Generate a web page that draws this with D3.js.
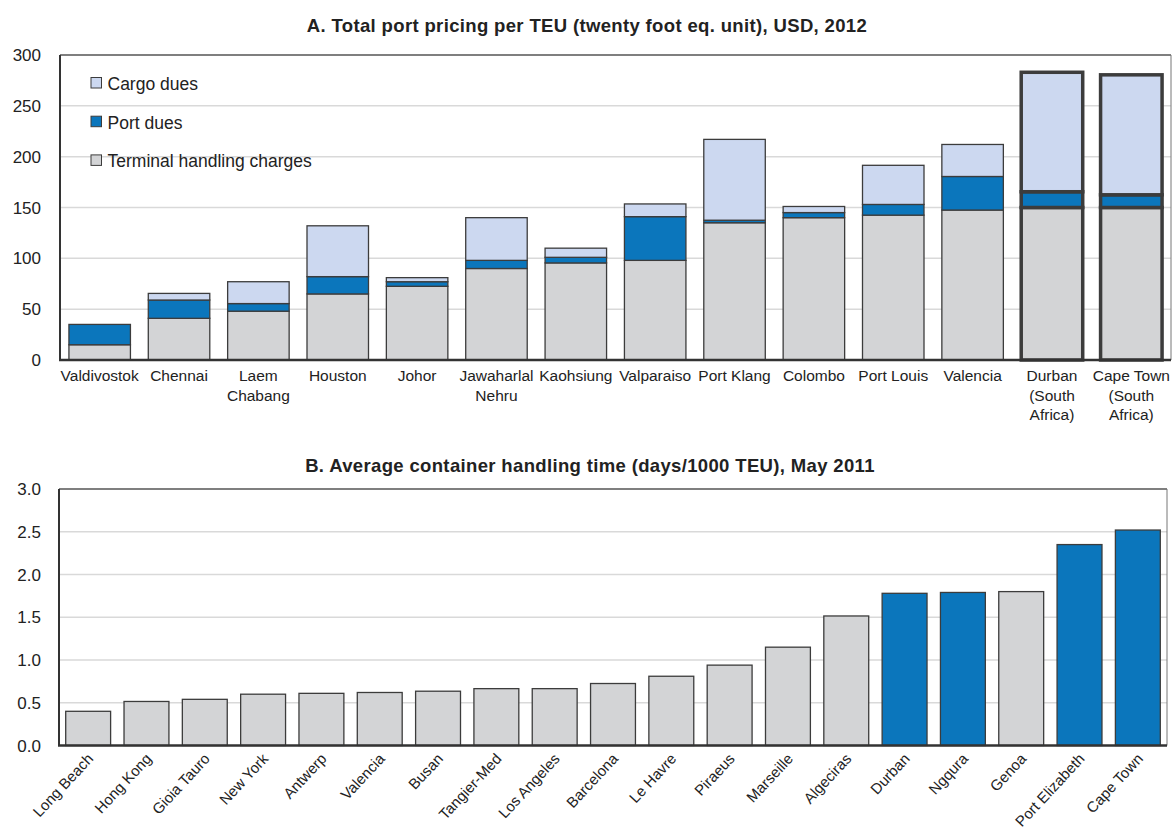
<!DOCTYPE html>
<html>
<head>
<meta charset="utf-8">
<script src="https://cdn.jsdelivr.net/npm/d3@7"></script>
<style>
    body { margin: 0; background: #fff; }
    svg { display: block; font-family: "Liberation Sans", Arial, sans-serif; }
</style>
</head>
<body>
<div id="chart"></div>
<script>
// Panel A data
const portsA = ['Valdivostok', 'Chennai', 'Laem\nChabang', 'Houston', 'Johor', 'Jawaharlal\nNehru', 'Kaohsiung',
    'Valparaiso', 'Port Klang', 'Colombo', 'Port Louis', 'Valencia', 'Durban\n(South\nAfrica)', 'Cape Town\n(South\nAfrica)'];
const terminalCharges = [15, 41, 48, 65, 72.5, 90, 95.5, 98, 135, 140, 142.5, 147.5, 150, 150];
const portDues = [20, 18, 7.5, 17, 4.5, 8, 5.5, 43, 2.5, 5, 10.5, 33, 15.5, 12.5];
const cargoDues = [0, 6.5, 21.5, 50, 4, 42, 9, 12.5, 79.5, 6, 38.5, 31.5, 117.5, 118];
const highlightA = ['Durban\n(South\nAfrica)', 'Cape Town\n(South\nAfrica)'];
const ticksA = [0, 50, 100, 150, 200, 250, 300];

// Panel B data
const portsB = ['Long Beach', 'Hong Kong', 'Gioia Tauro', 'New York', 'Antwerp', 'Valencia', 'Busan', 'Tangier-Med',
    'Los Angeles', 'Barcelona', 'Le Havre', 'Piraeus', 'Marseille', 'Algeciras', 'Durban', 'Ngqura', 'Genoa',
    'Port Elizabeth', 'Cape Town'];
const handlingTime = [0.40, 0.515, 0.54, 0.60, 0.61, 0.62, 0.635, 0.665, 0.665, 0.725, 0.81, 0.94, 1.15, 1.515,
    1.78, 1.79, 1.80, 2.35, 2.52];
const southAfricaB = ['Durban', 'Ngqura', 'Port Elizabeth', 'Cape Town'];
const ticksB = [0, 0.5, 1, 1.5, 2, 2.5, 3];

const colors = { thc: '#d3d4d6', port: '#0b76bc', cargo: '#ccd8f0', stroke: '#3c3c3c', grid: '#d9d9d9', text: '#222' };

const svg = d3.select('#chart').append('svg').attr('width', 1172).attr('height', 831);

// 画框和网格
const drawFrame = (g, x0, x1, y, ticks, fmt) => {
    g.append('g').selectAll('line').data(ticks.slice(1, -1)).enter().append('line')
        .attr('x1', x0).attr('x2', x1).attr('y1', d => y(d)).attr('y2', d => y(d))
        .attr('stroke', colors.grid).attr('stroke-width', 1.5);
    g.append('line').attr('x1', x0).attr('x2', x1).attr('y1', y(ticks[ticks.length - 1])).attr('y2', y(ticks[ticks.length - 1]))
        .attr('stroke', '#555').attr('stroke-width', 1.5);
    g.append('line').attr('x1', x1).attr('x2', x1).attr('y1', y(ticks[ticks.length - 1])).attr('y2', y(0))
        .attr('stroke', '#777').attr('stroke-width', 1);
    g.append('g').selectAll('text').data(ticks).enter().append('text')
        .attr('x', 41).attr('y', d => y(d)).attr('dy', '0.36em')
        .attr('text-anchor', 'end').attr('font-size', 17).attr('fill', colors.text)
        .text(fmt);
};

const drawAxisLines = (g, x0, x1, y, top) => {
    g.append('line').attr('x1', x0).attr('x2', x0).attr('y1', y(top)).attr('y2', y(0))
        .attr('stroke', '#333').attr('stroke-width', 2);
    g.append('line').attr('x1', x0 - 1).attr('x2', x1).attr('y1', y(0)).attr('y2', y(0))
        .attr('stroke', '#333').attr('stroke-width', 2.5);
};

const drawTitle = (g, x, y, text) => {
    g.append('text').attr('x', x).attr('y', y).attr('text-anchor', 'middle')
        .attr('font-size', 18.5).attr('font-weight', 'bold').attr('letter-spacing', 0.35).attr('fill', colors.text)
        .text(text);
};

// A. 港口费用
const drawPanelA = () => {
    const left = 60, right = 1171;
    const x = d3.scaleBand().domain(portsA).range([left, right]).paddingInner(0.225).paddingOuter(0.1125);
    const y = d3.scaleLinear().domain([0, 300]).range([360, 55]);
    const g = svg.append('g');

    drawTitle(g, 587, 32, 'A. Total port pricing per TEU (twenty foot eq. unit), USD, 2012');

    drawFrame(g, left, right, y, ticksA, d => d);

    // legend
    const legend = [['Cargo dues', colors.cargo], ['Port dues', colors.port], ['Terminal handling charges', colors.thc]];
    const lg = g.append('g').selectAll('g').data(legend).enter().append('g')
        .attr('transform', (d, i) => `translate(91,${77.5 + i * 38.7})`);
    lg.append('rect').attr('width', 10.5).attr('height', 10.5).attr('fill', d => d[1])
        .attr('stroke', colors.stroke).attr('stroke-width', 1);
    lg.append('text').attr('x', 16.5).attr('y', 12.5).attr('font-size', 17.5).attr('fill', colors.text).text(d => d[0]);

    const rows = portsA.map((p, i) => ({ port: p, thc: terminalCharges[i], port_dues: portDues[i], cargo: cargoDues[i] }));
    const keys = ['thc', 'port_dues', 'cargo'];
    const fills = [colors.thc, colors.port, colors.cargo];
    const series = d3.stack().keys(keys)(rows);

    g.append('g').selectAll('g').data(series).enter().append('g')
        .attr('fill', (d, i) => fills[i])
        .selectAll('rect').data(d => d.filter(s => s[1] > s[0])).enter().append('rect')
        .attr('x', d => x(d.data.port)).attr('width', x.bandwidth())
        .attr('y', d => y(d[1])).attr('height', d => y(d[0]) - y(d[1]))
        .attr('stroke', colors.stroke)
        .attr('stroke-width', d => highlightA.includes(d.data.port) ? 3.5 : 1.3);

    const labels = g.append('g').selectAll('text').data(portsA).enter().append('text')
        .attr('text-anchor', 'middle').attr('font-size', 15.5).attr('fill', colors.text)
        .attr('transform', d => `translate(${x(d) + x.bandwidth() / 2},381)`);
    labels.selectAll('tspan').data(d => d.split('\n')).enter().append('tspan')
        .attr('x', 0).attr('y', (d, i) => i * 19.5).text(d => d);

    drawAxisLines(g, left, right, y, 300);
};

// B. 集装箱处理时间
const drawPanelB = () => {
    const left = 59, right = 1167;
    const x = d3.scaleBand().domain(portsB).range([left, right]).paddingInner(0.23).paddingOuter(0.115);
    const y = d3.scaleLinear().domain([0, 3]).range([745.5, 489]);
    const g = svg.append('g');

    drawTitle(g, 590, 472, 'B. Average container handling time (days/1000 TEU), May 2011');

    drawFrame(g, left, right, y, ticksB, d3.format('.1f'));

    g.append('g').selectAll('rect').data(portsB).enter().append('rect')
        .attr('x', d => x(d)).attr('width', x.bandwidth())
        .attr('y', (d, i) => y(handlingTime[i])).attr('height', (d, i) => y(0) - y(handlingTime[i]))
        .attr('fill', d => southAfricaB.includes(d) ? colors.port : colors.thc)
        .attr('stroke', colors.stroke).attr('stroke-width', 1.3);

    g.append('g').selectAll('text').data(portsB).enter().append('text')
        .attr('text-anchor', 'end').attr('font-size', 15).attr('fill', colors.text)
        .attr('transform', d => `translate(${x(d) + x.bandwidth() / 2 + 6},${y(0) + 14}) rotate(-47)`)
        .text(d => d);

    drawAxisLines(g, left, right, y, 3);
};

drawPanelA();
drawPanelB();
</script>
</body>
</html>
